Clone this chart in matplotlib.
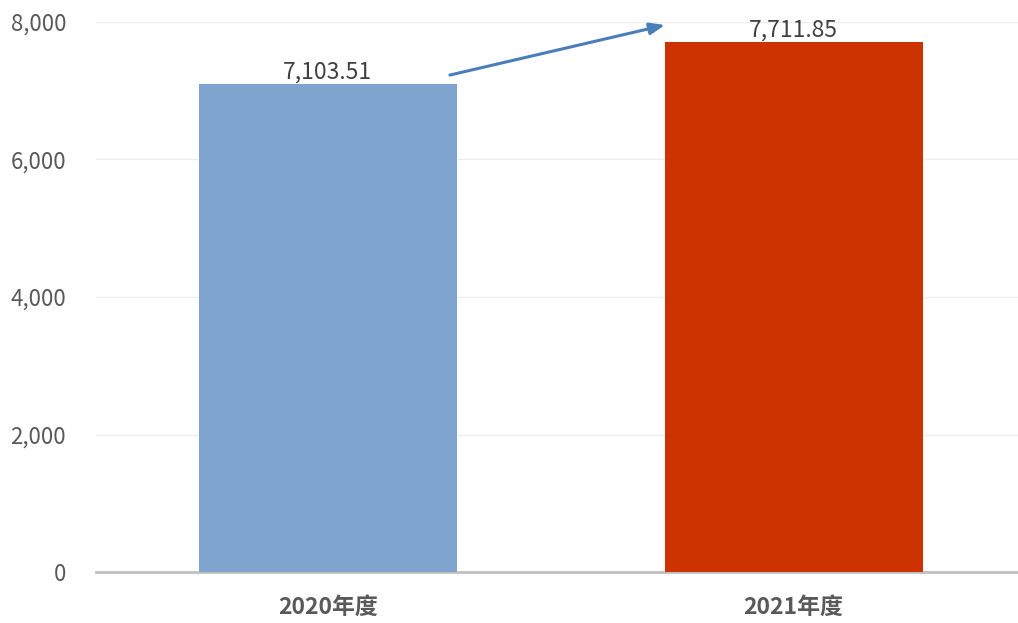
import matplotlib
matplotlib.use("Agg")
import matplotlib.pyplot as plt
from matplotlib.ticker import FuncFormatter

categories = ["2020年度", "2021年度"]
values = [7103.51, 7711.85]
bar_colors = ["#7FA5CF", "#CC3300"]
yticks = [0, 2000, 4000, 6000, 8000]

plt.rcParams['font.family'] = ['Noto Sans CJK SC', 'DejaVu Sans']

fig = plt.figure(figsize=(10.18, 6.23), dpi=100)
ax = fig.add_axes([96/1018, 1-572/623, 922/1018, 550/623])

x = list(range(len(categories)))
width = 0.554
ax.bar(x, values, width=width, color=bar_colors, zorder=3)

ax.set_xlim(-0.498, 1.482)
ax.set_ylim(0, 8000)
ax.set_yticks(yticks)
ax.yaxis.set_major_formatter(FuncFormatter(lambda v, p: f"{v:,.0f}"))
ax.grid(axis='y', color='#EEEEEE', linewidth=1, zorder=0)
for s in ['top', 'right', 'left']:
    ax.spines[s].set_visible(False)
ax.spines['bottom'].set_color('#BFBFBF')
ax.spines['bottom'].set_linewidth(2)
ax.tick_params(axis='both', length=0)
ax.tick_params(axis='y', labelsize=16, labelcolor='#595959', pad=21.5)
ax.set_xticks(x)
ax.set_xticklabels(categories, fontsize=16.5, fontweight='bold', color='#595959')
ax.tick_params(axis='x', pad=17)

for xi, v in zip(x, values):
    ax.text(xi, v, f"{v:,.2f}", ha='center', va='bottom', fontsize=16.5,
            color='#404040')

ax.annotate("", xy=(x[1] - 0.276, 7956), xytext=(x[0] + 0.262, values[0] + 125),
            arrowprops=dict(arrowstyle='-|>,head_length=0.9,head_width=0.35',
                            color='#4A7EBB', lw=2.2, shrinkA=0, shrinkB=0),
            zorder=5)

fig.savefig("out.png", dpi=100)
